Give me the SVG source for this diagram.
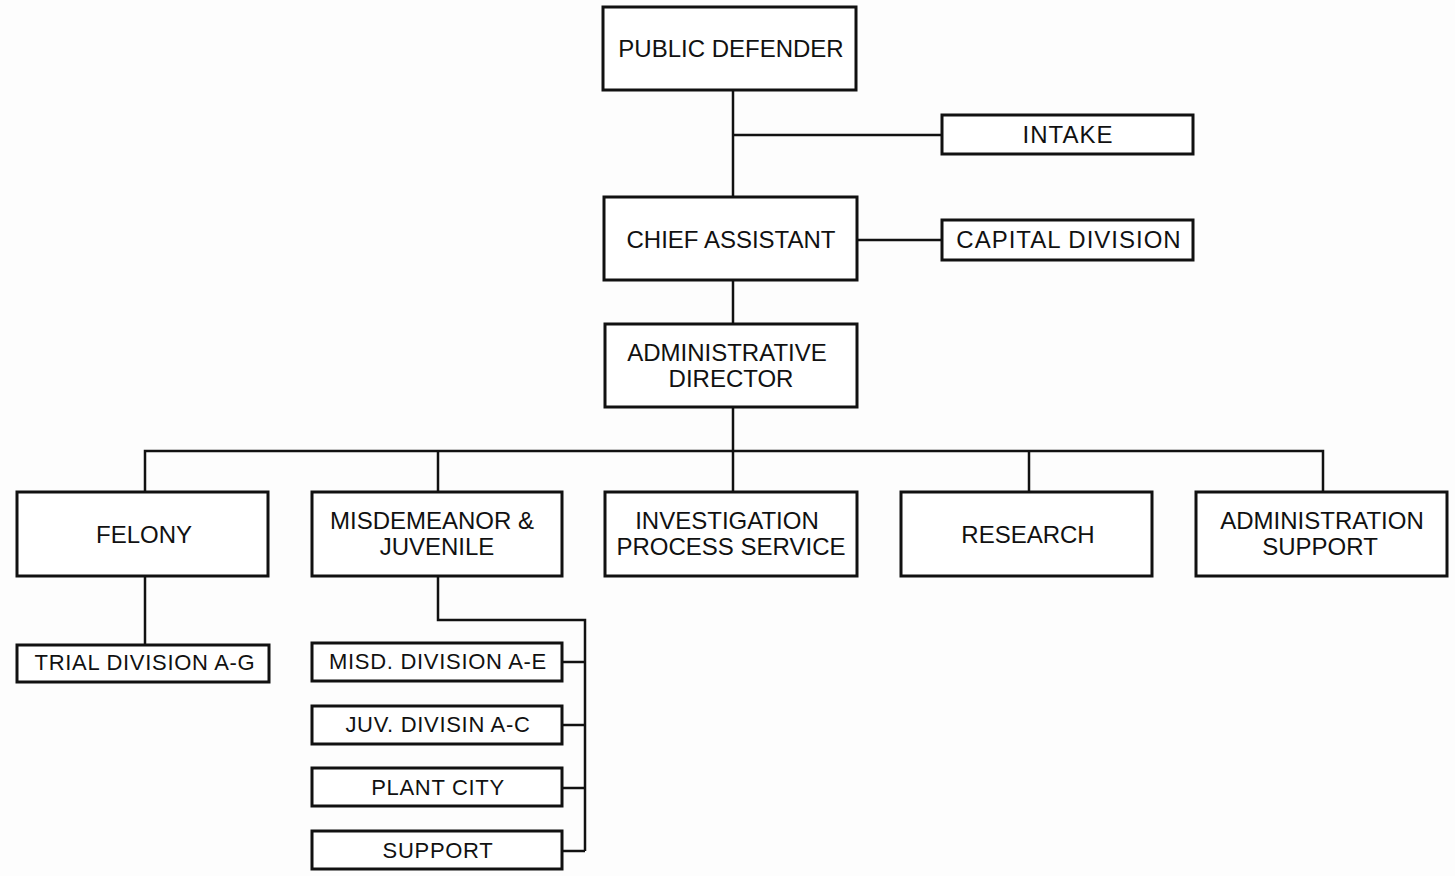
<svg xmlns="http://www.w3.org/2000/svg" width="1455" height="876" viewBox="0 0 1455 876">
  <style>
    .box { fill: #ffffff; stroke: #111; stroke-width: 3; }
    .wire { fill: none; stroke: #111; stroke-width: 2.5; }
    text { font-family: "Liberation Sans", Arial, sans-serif; fill: #111; text-anchor: middle; }
    .lg { font-size: 24px; }
    .md { font-size: 24px; letter-spacing: 1px; }
    .sm { font-size: 22px; letter-spacing: 0.7px; }
  </style>
  <rect width="1455" height="876" fill="#fdfdfd"/>

  <!-- connectors -->
  <g id="connectors" class="wire">
    <path d="M733 90 V197"/>
    <path d="M733 135 H942"/>
    <path d="M857 240 H942"/>
    <path d="M733 280 V324"/>
    <path d="M733 407 V451"/>
    <path d="M145 492 V451 H1323 V492"/>
    <path d="M438 451 V492"/>
    <path d="M733 451 V492"/>
    <path d="M1029 451 V492"/>
    <path d="M145 576 V645"/>
    <path d="M438 576 V620 H585 V851"/>
    <path d="M562 662 H585"/>
    <path d="M562 725 H585"/>
    <path d="M562 788 H585"/>
    <path d="M562 851 H585"/>
  </g>

  <g id="public-defender">
    <rect class="box" x="603" y="7" width="253" height="83"/>
    <text class="lg" x="731" y="57">PUBLIC DEFENDER</text>
  </g>
  <g id="intake">
    <rect class="box" x="942" y="115" width="251" height="39"/>
    <text class="md" x="1068" y="143">INTAKE</text>
  </g>
  <g id="chief-assistant">
    <rect class="box" x="604" y="197" width="253" height="83"/>
    <text class="lg" x="731" y="248">CHIEF ASSISTANT</text>
  </g>
  <g id="capital-division">
    <rect class="box" x="942" y="220" width="251" height="40"/>
    <text class="md" x="1069" y="248">CAPITAL DIVISION</text>
  </g>
  <g id="administrative-director">
    <rect class="box" x="605" y="324" width="252" height="83"/>
    <text class="lg" x="727" y="361">ADMINISTRATIVE</text>
    <text class="lg" x="731" y="387">DIRECTOR</text>
  </g>

  <g id="felony">
    <rect class="box" x="17" y="492" width="251" height="84"/>
    <text class="lg" x="144" y="543">FELONY</text>
  </g>
  <g id="misdemeanor-juvenile">
    <rect class="box" x="312" y="492" width="250" height="84"/>
    <text class="lg" x="432" y="529">MISDEMEANOR &amp;</text>
    <text class="lg" x="437" y="555">JUVENILE</text>
  </g>
  <g id="investigation">
    <rect class="box" x="605" y="492" width="252" height="84"/>
    <text class="lg" x="727" y="529">INVESTIGATION</text>
    <text class="lg" x="731" y="555">PROCESS SERVICE</text>
  </g>
  <g id="research">
    <rect class="box" x="901" y="492" width="251" height="84"/>
    <text class="lg" x="1028" y="543">RESEARCH</text>
  </g>
  <g id="administration-support">
    <rect class="box" x="1196" y="492" width="251" height="84"/>
    <text class="lg" x="1322" y="529">ADMINISTRATION</text>
    <text class="lg" x="1320" y="555">SUPPORT</text>
  </g>

  <g id="trial-division">
    <rect class="box" x="17" y="645" width="252" height="37"/>
    <text class="sm" x="145" y="670">TRIAL DIVISION A-G</text>
  </g>
  <g id="misd-division">
    <rect class="box" x="312" y="643" width="250" height="38"/>
    <text class="sm" x="438" y="669">MISD. DIVISION A-E</text>
  </g>
  <g id="juv-division">
    <rect class="box" x="312" y="706" width="250" height="38"/>
    <text class="sm" x="438" y="732">JUV. DIVISIN A-C</text>
  </g>
  <g id="plant-city">
    <rect class="box" x="312" y="768" width="250" height="38"/>
    <text class="sm" x="438" y="795">PLANT CITY</text>
  </g>
  <g id="support">
    <rect class="box" x="312" y="831" width="250" height="38"/>
    <text class="sm" x="438" y="858">SUPPORT</text>
  </g>
</svg>
